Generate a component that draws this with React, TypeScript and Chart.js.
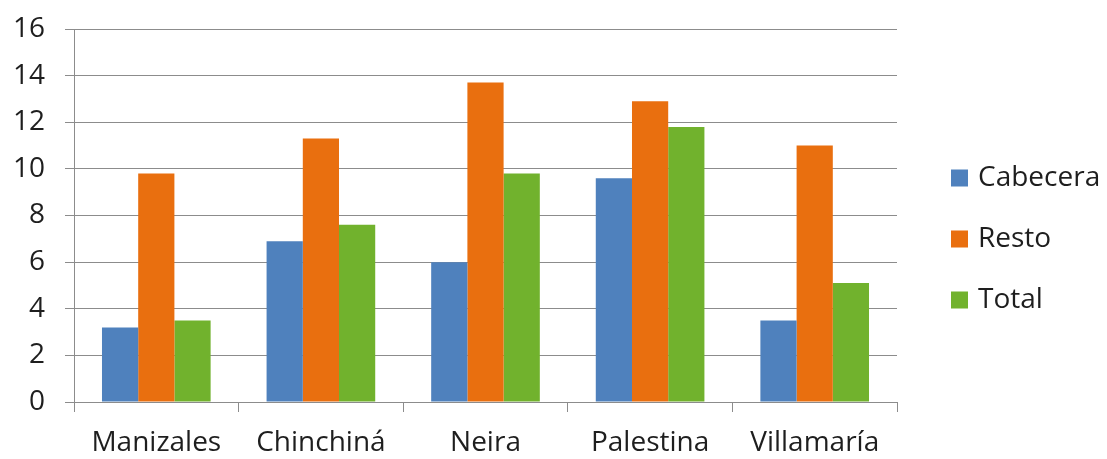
import React, { useEffect, useRef } from "react";
import { Chart, registerables } from "chart.js";

Chart.register(...registerables);

const categories = ["Manizales", "Chinchiná", "Neira", "Palestina", "Villamaría"];
const cabecera = [3.2, 6.9, 6.0, 9.6, 3.5];
const resto = [9.8, 11.3, 13.7, 12.9, 11.0];
const total = [3.5, 7.6, 9.8, 11.8, 5.1];
const yTicks = [0, 2, 4, 6, 8, 10, 12, 14, 16];

const FONT = "'Open Sans', 'Noto Sans', sans-serif";
const TEXT = "#1e1e1e";
const GRID = "#8c8c8c";

// Legend drawn to the right of the plot, stacked vertically
const sideLegend = {
  id: "sideLegend",
  afterDraw(chart: any) {
    const { ctx, chartArea } = chart;
    const x = chartArea.right + 54;
    const box = 17;
    const step = 61;
    const midY = 239;
    const n = chart.data.datasets.length;
    ctx.save();
    ctx.font = `28px ${FONT}`;
    ctx.textBaseline = "middle";
    ctx.textAlign = "left";
    chart.data.datasets.forEach((ds: any, i: number) => {
      const cy = midY + (i - (n - 1) / 2) * step;
      ctx.fillStyle = ds.backgroundColor;
      ctx.fillRect(x, cy - box / 2, box, box);
      ctx.fillStyle = TEXT;
      ctx.fillText(ds.label, x + box + 10, cy);
    });
    ctx.restore();
  },
};

export default function App() {
  const ref = useRef<HTMLCanvasElement | null>(null);

  useEffect(() => {
    document.body.style.margin = "0";
    if (!ref.current) return;
    const chart = new Chart(ref.current, {
      type: "bar",
      data: {
        labels: categories,
        datasets: [
          { label: "Cabecera", data: cabecera, backgroundColor: "#4f81bd" },
          { label: "Resto", data: resto, backgroundColor: "#e96f0f" },
          { label: "Total", data: total, backgroundColor: "#71b22d" },
        ],
      },
      options: {
        responsive: false,
        animation: false,
        maintainAspectRatio: false,
        datasets: { bar: { categoryPercentage: 0.66, barPercentage: 1 } },
        layout: { padding: { top: 29, right: 210, bottom: 0, left: 0 } },
        plugins: { legend: { display: false }, tooltip: { enabled: false } },
        scales: {
          x: {
            afterFit: (scale: any) => {
              scale.height = 57;
              scale.paddingLeft = 0;
              scale.paddingRight = 0;
            },
            grid: {
              offset: true,
              drawOnChartArea: false,
              drawTicks: true,
              tickLength: 10,
              color: GRID,
              lineWidth: 1,
            },
            border: { color: GRID, width: 1 },
            ticks: {
              color: TEXT,
              padding: 14,
              font: { family: FONT, size: 28 },
              maxRotation: 0,
              autoSkip: false,
            },
          },
          y: {
            min: 0,
            max: 16,
            afterFit: (scale: any) => {
              scale.width = 74;
              scale.paddingTop = 0;
              scale.paddingBottom = 0;
            },
            afterBuildTicks: (scale: any) => {
              scale.ticks = yTicks.map((v) => ({ value: v }));
            },
            grid: { color: GRID, lineWidth: 1, tickLength: 9 },
            border: { color: GRID, width: 1 },
            ticks: {
              color: TEXT,
              padding: 20,
              font: { family: FONT, size: 28 },
            },
          },
        },
      },
      plugins: [sideLegend],
    });
    return () => chart.destroy();
  }, []);

  return (
    <div style={{ width: 1107, height: 459, background: "#fff" }}>
      <canvas ref={ref} width={1107} height={459} />
    </div>
  );
}
